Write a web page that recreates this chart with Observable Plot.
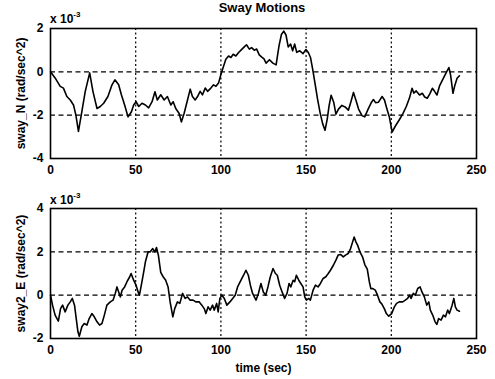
<!DOCTYPE html>
<html>
<head>
<meta charset="utf-8">
<script src="https://cdn.jsdelivr.net/npm/d3@7"></script>
<script src="https://cdn.jsdelivr.net/npm/@observablehq/plot@0.6"></script>
<style>
  html, body { margin: 0; padding: 0; background: #fff; }
  #wrap { position: relative; width: 495px; height: 379px; overflow: hidden; font-family: "Liberation Sans", Arial, sans-serif; color: #000; }
  #wrap svg { position: absolute; left: 0; }
  .txt { position: absolute; font-weight: bold; white-space: nowrap; }
  .txt sup { font-size: 8px; position: relative; top: -1px; }
</style>
</head>
<body>
<div id="wrap"></div>
<script>
// ---- data (values in units of 1e-3 rad/sec^2) ----
const titleText = "Sway Motions";
const xTicks = [0, 50, 100, 150, 200, 250];
const yTicksN = [-4, -2, 0, 2];
const yTicksE = [-2, 0, 2, 4];

const swayN_t = [0,2.7,5.7,7.6,9.6,11.6,13.5,14.9,16.4,18.4,20.4,23.0,24.9,27.3,29.2,31.2,33.7,36.1,37.8,40,41.6,43.5,45.5,47.5,48.8,50.2,51.8,53.7,55.7,57.6,59.6,61.3,62.7,64.7,66.7,68.6,70.6,72,73.5,75.5,76.8,78.4,80.4,82,83.3,84.9,86.3,87.8,89.2,90.8,92.2,94.1,95.7,97.1,98.6,100,101.6,102.9,104.5,105.9,107.2,108.8,110.4,111.8,113.7,115,116.7,118,119.6,121,122.5,124,125.3,126.5,128.5,130.5,132.4,134.1,135.5,136.9,138.2,139.5,140.9,142.1,143.3,144.5,146.3,148.2,149.9,151.3,152.6,153.8,155.2,156.7,158.2,159.7,161.1,162.4,163.5,164.7,166.2,167.5,169,171,172.9,174.8,176.3,177.8,179.3,180.8,182.8,184.4,186.4,188.4,189.5,190.8,192.5,194.6,196,197.4,198.9,200.5,202.4,204.8,206.9,208.8,210.7,212.2,213.2,214.6,216.6,218.2,219.6,221.1,222.6,224.1,225.4,226.8,228.3,230.3,232.3,233.8,234.8,236.2,237.2,238.6,240];
const swayN   = [0,-0.28,-0.67,-0.75,-1.14,-1.3,-1.53,-2.0,-2.75,-1.84,-0.9,-0.05,-0.9,-1.69,-1.6,-1.45,-1.14,-0.6,-0.37,-0.6,-1.06,-1.53,-2.08,-1.84,-1.53,-1.38,-1.6,-1.45,-1.53,-1.66,-1.38,-0.92,-1.3,-1.06,-1.3,-1.14,-1.53,-1.38,-1.69,-1.92,-2.31,-1.92,-1.3,-0.8,-1.14,-1.3,-1.14,-0.9,-1.06,-0.75,-0.9,-0.75,-0.6,-0.67,-0.52,-0.12,0.27,0.58,0.73,0.66,0.81,0.73,0.89,1.0,1.15,1.25,1.05,1.12,1.0,1.05,0.78,0.68,0.6,0.4,0.56,0.4,0.32,1.2,1.72,1.88,1.7,1.15,1.28,0.97,1.28,0.9,0.97,0.84,1.03,0.89,0.66,0.15,-0.52,-1.25,-1.88,-2.39,-2.7,-2.18,-1.56,-1.08,-1.4,-1.95,-1.72,-1.55,-1.62,-1.77,-1.38,-0.95,-1.32,-1.72,-2.02,-2.08,-1.72,-1.4,-1.28,-1.42,-1.4,-1.14,-1.3,-1.7,-2.1,-2.78,-2.5,-2.2,-1.92,-1.6,-1.2,-0.76,-0.98,-0.88,-1.07,-0.99,-1.16,-1.22,-1.02,-0.76,-0.9,-1.07,-0.65,-0.34,-0.03,0.2,-0.15,-0.99,-0.65,-0.3,-0.18];

const sway2E_t = [0,1.2,2.7,4.6,5.9,7.1,8.6,10.2,11.6,12.8,14.1,15.1,16.1,16.9,18.4,19.8,21.4,22.7,24.3,25.7,27.3,28.8,30.2,31.6,33.1,35.1,36.7,38,39,40,41,42,43.5,44.9,46.5,47.3,48.8,50.2,51.4,52.2,53.3,54.7,55.7,57.3,58.6,60,61.2,62.2,63.3,64.7,66.1,67.6,69,70.2,71.8,72.9,74.5,75.9,77.5,79,80.4,82,83.7,85.3,87.3,88.8,90.2,91.2,92.5,93.7,95.1,96.1,97.5,98.4,99.4,100.6,102,103.5,105.3,106.9,108.4,109.8,111.8,113.3,114.7,116.1,117.3,118.6,120.6,122,123.5,124.9,126.3,127.6,129,130.6,132,133.1,134.5,135.9,137.4,138.8,140,141,142.4,143.3,144.3,145.7,146.9,148.2,149.2,150.2,151.6,152.5,154.1,155.5,157,158.4,160,161.6,163,164.3,166,167.5,168.8,170.2,171.8,173.1,174.7,176.1,177.3,178.2,179.2,180.2,181.6,183.1,184.5,185.9,187.1,188,189.2,190.6,191.9,193.3,194.4,195.9,197.1,198.5,200.2,201.8,203.1,204.7,206.7,208.2,209.6,210.6,211.6,212.9,214.1,215.5,216.9,218,219.4,220.8,222,222.9,224.3,225.7,226.7,227.8,229.2,230.6,231.8,233.1,234.1,235.7,236.7,237.6,238.6,240];
const sway2E   = [0,-0.46,-0.92,-1.2,-0.62,-0.46,-0.77,-0.46,-0.31,-0.15,-0.46,-1.08,-1.69,-1.9,-1.46,-1.31,-1.38,-1.08,-0.85,-1.0,-1.23,-1.38,-1.31,-0.92,-0.46,-0.31,-0.23,0.08,0.38,0.15,-0.08,0.23,0.38,0.62,0.85,1.0,0.69,0.46,0.15,0.0,0.46,1.08,1.54,2.0,2.0,2.15,2.0,2.2,1.85,1.05,0.85,0.69,0.38,-0.31,-1.0,-0.62,-0.31,-0.38,0.08,-0.15,-0.08,-0.23,-0.23,-0.31,-0.31,-0.46,-0.62,-0.85,-0.54,-0.69,-0.46,-0.69,-0.38,-0.77,-0.15,0.0,-0.15,-0.46,-0.31,-0.15,0.0,0.38,0.69,0.92,1.15,0.92,0.46,0.08,-0.23,0.08,0.54,0.15,0.0,0.38,0.85,1.23,1.0,0.92,0.46,0.15,-0.15,0.08,0.54,0.38,0.69,0.62,0.92,0.69,0.54,0.38,-0.08,-0.23,-0.15,-0.23,0.23,0.46,0.38,0.54,0.77,0.85,1.0,1.15,1.38,1.62,1.85,1.88,1.77,1.85,1.92,2.15,2.46,2.68,2.46,2.31,2.0,1.77,1.4,1.2,0.62,0.3,0.3,0.23,0.0,-0.31,-0.4,-0.62,-0.85,-0.97,-0.85,-0.54,-0.38,-0.31,-0.31,-0.23,-0.15,0.0,-0.15,0.08,0.0,0.31,0.38,0.15,-0.08,-0.46,-0.31,-0.69,-0.92,-1.23,-1.35,-1.08,-1.15,-0.92,-1.0,-0.69,-0.85,-0.46,-0.15,-0.54,-0.69,-0.74];

const panelN = swayN_t.map((t, i) => ({t, v: swayN[i]}));
const panelE = sway2E_t.map((t, i) => ({t, v: sway2E[i]}));

const font = {fontFamily: "'Liberation Sans', Arial, sans-serif", fontSize: "12px", fontWeight: "bold", color: "#000", background: "transparent", overflow: "visible"};

function panel(data, yDomain, yTicks, yLabel, opts) {
  return Plot.plot({
    width: 495,
    height: opts.height,
    marginLeft: 50,
    marginRight: 19,
    marginTop: 28,
    marginBottom: opts.marginBottom,
    style: font,
    x: {domain: [0, 250], ticks: xTicks, tickSize: 0, tickPadding: 7, tickFormat: d => String(d),
        label: opts.xLabel, labelAnchor: "center", labelOffset: opts.xLabelOffset, labelArrow: "none"},
    y: {domain: yDomain, ticks: yTicks, tickSize: 0, tickPadding: 7, tickFormat: d => String(d),
        label: yLabel, labelAnchor: "center", labelOffset: 34, labelArrow: "none"},
    marks: [
      Plot.ruleX(xTicks.slice(1, -1), {stroke: "#000", strokeWidth: 1.2, strokeDasharray: "2,2.5"}),
      Plot.ruleY(yTicks.slice(1, -1), {stroke: "#000", strokeWidth: 1.2, strokeDasharray: "5,3.5"}),
      Plot.line(data, {x: "t", y: "v", stroke: "#000", strokeWidth: 1.6}),
      Plot.frame({stroke: "#000", strokeWidth: 1.6})
    ]
  });
}

const wrap = document.getElementById("wrap");
const top1 = panel(panelN, [-4, 2], yTicksN, "sway_N (rad/sec^2)", {height: 180, marginBottom: 22, xLabel: null, xLabelOffset: 30});
top1.style.top = "0px";
const bot = panel(panelE, [-2, 4], yTicksE, "sway2_E (rad/sec^2)", {height: 199, marginBottom: 41, xLabel: "time (sec)", xLabelOffset: 33});
bot.style.top = "180px";
wrap.appendChild(top1);
wrap.appendChild(bot);

function addText(html, left, top, size, anchorCenter) {
  const d = document.createElement("div");
  d.className = "txt";
  d.innerHTML = html;
  d.style.left = left + "px";
  d.style.top = top + "px";
  d.style.fontSize = size + "px";
  if (anchorCenter) d.style.transform = "translateX(-50%)";
  wrap.appendChild(d);
}
addText(titleText, 262, 0, 13, true);
addText("x 10<sup>-3</sup>", 50, 11, 12, false);
addText("x 10<sup>-3</sup>", 50, 192, 12, false);
</script>
</body>
</html>
